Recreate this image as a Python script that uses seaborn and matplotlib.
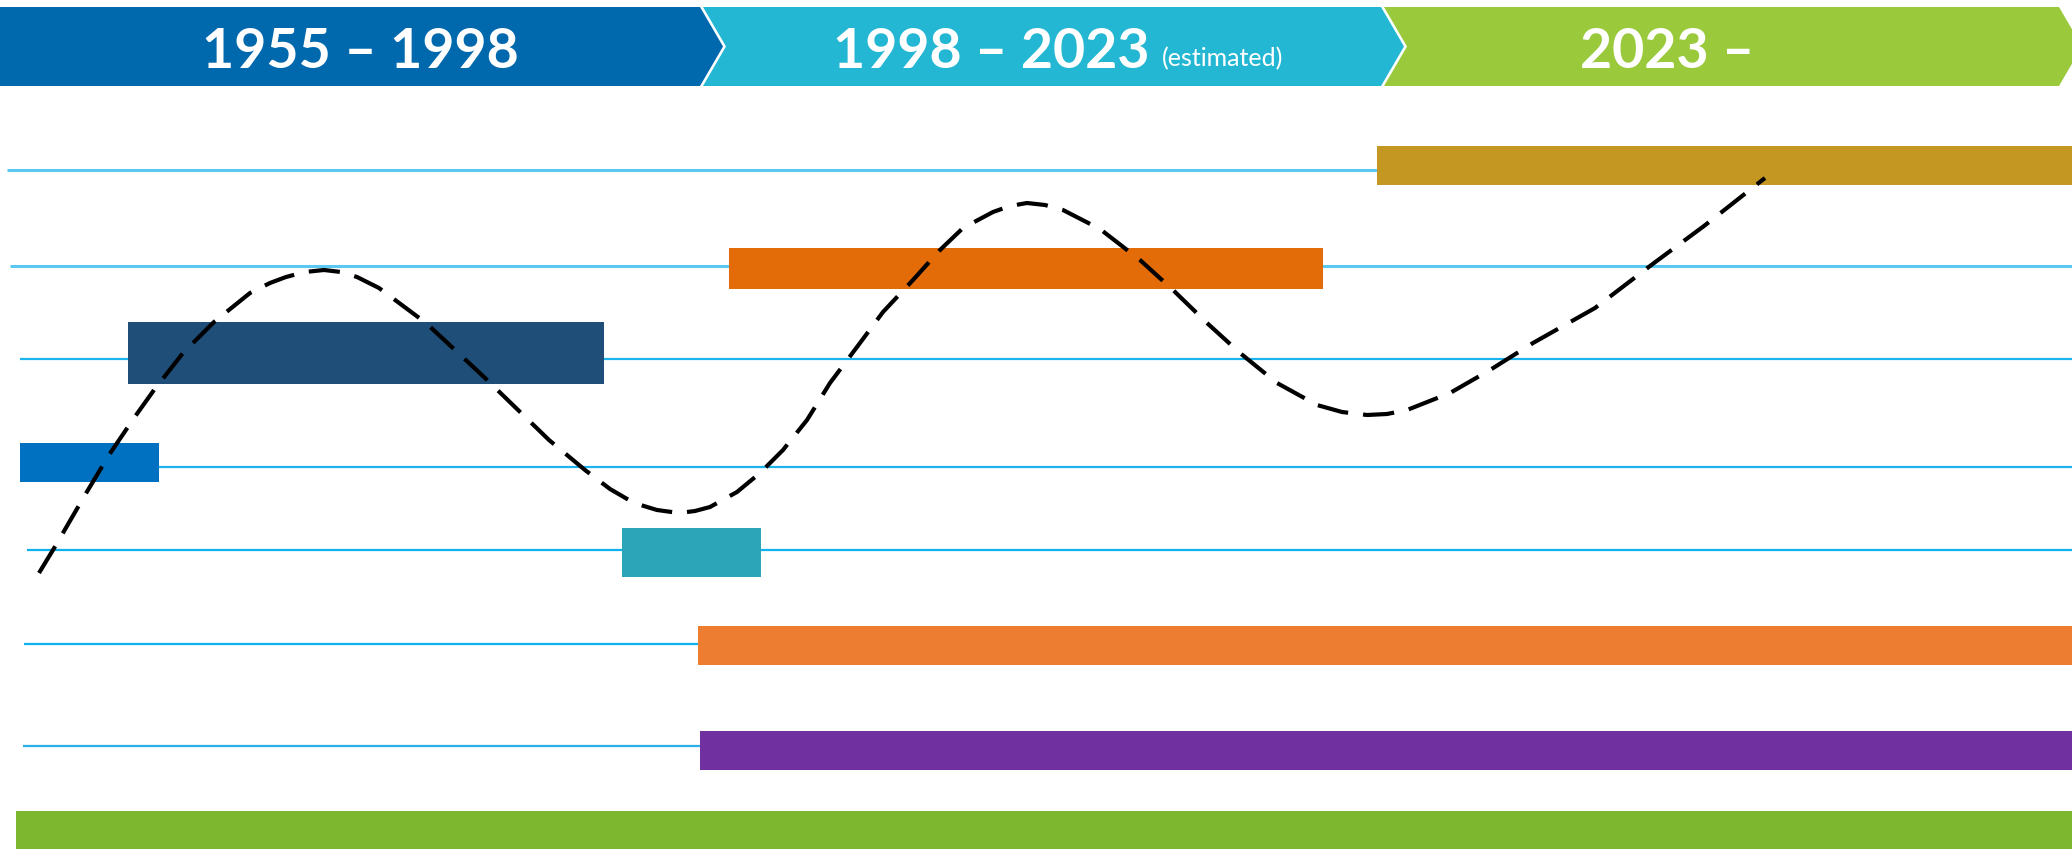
import numpy as np
import pandas as pd
import matplotlib
matplotlib.use("Agg")
import matplotlib.pyplot as plt
import seaborn as sns

# canvas units: the diagram is drawn on a 2072 x 849 timeline board
boardWidth  = 2072
boardHeight = 849

# header stages
stageLabels = ["1955 – 1998", "1998 – 2023", "2023 –"]
stageNotes  = ["", "(estimated)", ""]
stageStart  = [0, 703, 1384]
stageEnd    = [700, 1381, 2059]
stageColors = ["#0068AD", "#24B7D3", "#9ACA3C"]

# lanes (light blue guide lines)
laneY      = [170, 266, 359, 467, 550, 644, 746]
laneStart  = [7, 10, 20, 20, 27, 24, 23]
laneColors = ["#5BC8F3", "#5BC8F3", "#1DB4EE", "#1DB4EE", "#10B2EE", "#10B2EE", "#29AEE6"]

# era bars
barStart  = [20, 128, 622, 729, 1377, 698, 700, 16]
barEnd    = [159, 604, 761, 1323, 2072, 2072, 2072, 2072]
barCenter = [462.5, 353, 552.5, 268, 165.5, 645.5, 750.5, 830.5]
barThick  = [39, 62, 49, 41, 39, 39, 39, 39]
barColors = ["#0070C0", "#1F4E78", "#2CA5B8", "#E36C09", "#C49622",
             "#ED7D31", "#7030A0", "#7DB72F"]

# dashed wave
curveX = [39, 56, 85, 109, 134, 154, 183, 214, 250, 270, 286, 305, 324, 341,
          357, 379, 426, 484, 549, 585, 610, 634, 657, 679, 695, 710, 737,
          760, 783, 807, 830, 857, 883, 913, 940, 963, 993, 1010, 1027, 1045,
          1063, 1100, 1140, 1173, 1207, 1240, 1277, 1317, 1342, 1367, 1387,
          1407, 1450, 1490, 1533, 1595, 1654, 1704, 1765]
curveY = [573, 545, 495, 455, 418, 390, 353, 322, 293, 283, 277, 272, 270, 272,
          277, 288, 323, 377, 440, 470, 489, 503, 510, 513, 511, 507, 492,
          473, 450, 420, 383, 347, 312, 280, 250, 228, 212, 206, 203, 205,
          210, 229, 260, 290, 323, 353, 383, 405, 412, 415, 414,
          410, 393, 370, 343, 308, 263, 226, 178]

sns.set_theme(style="white")
plt.rcParams["font.family"] = ["Lato", "DejaVu Sans"]

fig = plt.figure(figsize=(boardWidth / 100, boardHeight / 100), dpi=100, facecolor="white")
ax = fig.add_axes([0, 0, 1, 1])

# guide lines
for y, x0, c in zip(laneY, laneStart, laneColors):
    lw = 2.2 if c == "#5BC8F3" else 1.6
    ax.hlines(y, x0, boardWidth, color=c, linewidth=lw, zorder=1)

# bars
bars = pd.DataFrame({"start": barStart, "end": barEnd, "center": barCenter,
                     "thick": barThick, "color": barColors})
ax.barh(bars["center"], bars["end"] - bars["start"], left=bars["start"],
        height=bars["thick"], color=bars["color"], linewidth=0, zorder=2)

# wave
sns.lineplot(x=curveX, y=curveY, ax=ax, color="black", linewidth=3.0,
             linestyle=(0, (7.5, 3.6)), sort=False, estimator=None, zorder=3)
ax.set_xlim(0, boardWidth)
ax.set_ylim(boardHeight, 0)
ax.axis("off")

# header chevrons
top, bottom, tip = 7, 86, 23
mid = (top + bottom) / 2
for i, (x0, x1, col) in enumerate(zip(stageStart, stageEnd, stageColors)):
    notch = 0 if i == 0 else tip
    xs = [x0, x1, x1 + tip, x1, x0, x0 + notch]
    ys = [top, top, mid, bottom, bottom, mid]
    ax.fill(xs, ys, color=col, linewidth=0, zorder=5)

centers = [360, 991, 1667]
for label, note, cx in zip(stageLabels, stageNotes, centers):
    ax.text(cx, 68, label, color="white", fontsize=40, fontweight="bold",
            ha="center", va="baseline", zorder=6)
    if note:
        ax.text(1162, 66, note, color="white", fontsize=18, fontweight="normal",
                ha="left", va="baseline", zorder=6)

fig.savefig("out.png", dpi=100, facecolor="white")
plt.close(fig)
